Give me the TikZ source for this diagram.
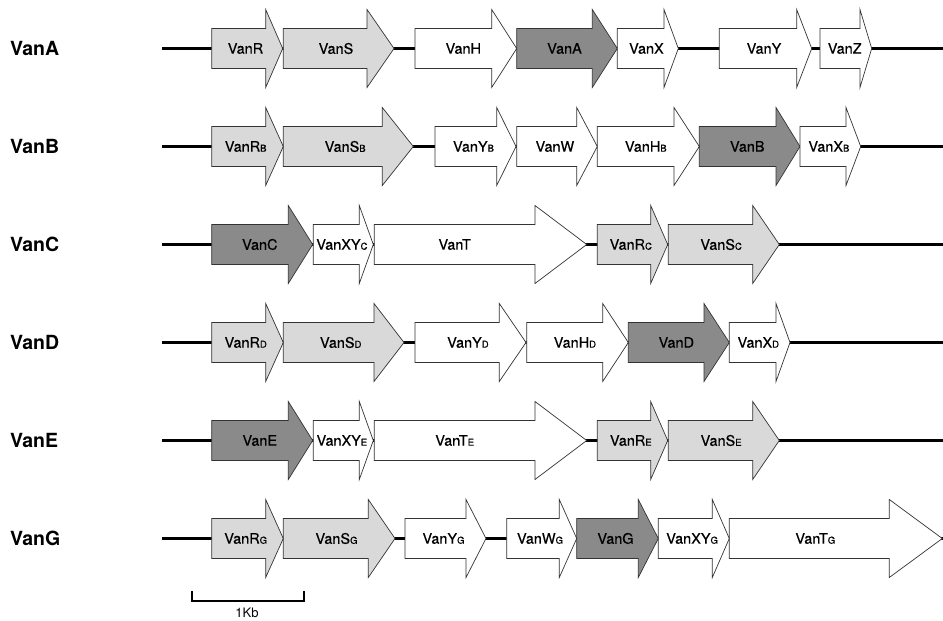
\documentclass[tikz,border=0pt]{standalone}
\usepackage{fontspec}
\setmainfont{TeX Gyre Heros}
\newfontfamily\genefont[FakeBold=0.5]{TeX Gyre Heros}
\definecolor{lightg}{HTML}{D9D9D9}
\definecolor{darkg}{HTML}{8A8A8A}
\definecolor{edge}{HTML}{333333}
\newcommand\sub[1]{{\fontsize{9.5}{9.5}\selectfont #1}}
% #1 name, #2 start, #3 head start, #4 tip, #5 y, #6 style, #7 label x, #8 text
\newcommand\gene[8]{%
  \draw[genebox,#6] (#2,#5-20) -- (#3,#5-20) -- (#3,#5-39) -- (#4,#5) -- (#3,#5+39) -- (#3,#5+20) -- (#2,#5+20) -- cycle;
  \node[genelabel] (#1) at (#7,#5) {#8};
}
\tikzset{
  genebox/.style={draw=edge, line width=0.7pt, line join=miter},
  light/.style={fill=lightg},
  dark/.style={fill=darkg},
  plain/.style={fill=white},
  genelabel/.style={inner sep=0pt, font=\genefont\fontsize{14.5}{14.5}\selectfont},
  rowlabel/.style={anchor=west, inner sep=0pt, font=\fontsize{19.5}{19.5}\selectfont\bfseries},
  backbone/.style={line width=3pt},
  scalebar/.style={line width=2pt},
}
\begin{document}
\begin{tikzpicture}[x=1pt,y=-1pt]
\useasboundingbox (0,0) rectangle (943,621);
% row labels
\node[rowlabel] (lA) at (10,48.5) {VanA};
\node[rowlabel] (lB) at (10,146.5) {VanB};
\node[rowlabel] (lC) at (10,244.5) {VanC};
\node[rowlabel] (lD) at (10,342.5) {VanD};
\node[rowlabel] (lE) at (10,440.5) {VanE};
\node[rowlabel] (lG) at (10,538.5) {VanG};
% backbones
\foreach \r/\y in {A/48.5,B/146.5,C/244.5,D/342.5,E/440.5,G/538.5}{
  \coordinate (s\r) at (162,\y);
  \coordinate (e\r) at (943,\y);
  \draw[backbone] (s\r) -- (e\r);
}
% Row A
\gene{aR}{211.7}{265.7}{282.7}{48.5}{light}{245.5}{VanR}
\gene{aS}{283.3}{367}{394}{48.5}{light}{336}{VanS}
\gene{aH}{415}{491.7}{516.7}{48.5}{plain}{463.3}{VanH}
\gene{aA}{516.7}{592.3}{617.3}{48.5}{dark}{564.5}{VanA}
\gene{aX}{617.3}{664}{678.3}{48.5}{plain}{646.4}{VanX}
\gene{aY}{719.3}{796.7}{811.7}{48.5}{plain}{764}{VanY}
\gene{aZ}{820}{860}{871.7}{48.5}{plain}{844.7}{VanZ}
% Row B
\gene{bR}{211.7}{265.7}{283.3}{146.5}{light}{245.7}{VanR\sub{B}}
\gene{bS}{283.3}{382.3}{413.3}{146.5}{light}{345.2}{VanS\sub{B}}
\gene{bY}{435}{496.7}{516}{146.5}{plain}{473.5}{VanY\sub{B}}
\gene{bW}{516.7}{576.7}{597.3}{146.5}{plain}{554.9}{VanW}
\gene{bH}{597.3}{674}{699.3}{146.5}{plain}{645.8}{VanH\sub{B}}
\gene{bB}{699.3}{776}{800}{146.5}{dark}{747.3}{VanB}
\gene{bX}{800}{846}{860.7}{146.5}{plain}{828.9}{VanX\sub{B}}
% Row C
\gene{cC}{211.7}{288.3}{312.7}{244.5}{dark}{259.8}{VanC}
\gene{cXY}{313.3}{359.3}{373.3}{244.5}{plain}{341.9}{VanXY\sub{C}}
\gene{cT}{374.3}{535}{586.7}{244.5}{plain}{454.7}{VanT}
\gene{cR}{597.3}{650.7}{667.7}{244.5}{light}{630.8}{VanR\sub{C}}
\gene{cS}{668.3}{752.7}{779.3}{244.5}{light}{721.1}{VanS\sub{C}}
% Row D
\gene{dR}{211.7}{265.7}{283.3}{342.5}{light}{245.7}{VanR\sub{D}}
\gene{dS}{283.3}{374}{404}{342.5}{light}{340.7}{VanS\sub{D}}
\gene{dY}{415}{499.3}{526}{342.5}{plain}{467.9}{VanY\sub{D}}
\gene{dH}{526.7}{602.7}{628.3}{342.5}{plain}{574.9}{VanH\sub{D}}
\gene{dD}{628.3}{704}{729.3}{342.5}{dark}{676.3}{VanD}
\gene{dX}{729.3}{776}{790}{342.5}{plain}{758.3}{VanX\sub{D}}
% Row E
\gene{eE}{211.7}{288.3}{312.7}{440.5}{dark}{259.8}{VanE}
\gene{eXY}{313.3}{359.3}{373.3}{440.5}{plain}{341.9}{VanXY\sub{E}}
\gene{eT}{374.3}{535}{586.7}{440.5}{plain}{454.7}{VanT\sub{E}}
\gene{eR}{597.3}{650.7}{667.7}{440.5}{light}{630.8}{VanR\sub{E}}
\gene{eS}{668.3}{752.7}{779.3}{440.5}{light}{721.1}{VanS\sub{E}}
% Row G
\gene{gR}{211.7}{265.7}{283.3}{538.5}{light}{245.7}{VanR\sub{G}}
\gene{gS}{283.3}{368.3}{395}{538.5}{light}{336.5}{VanS\sub{G}}
\gene{gY}{405}{466}{486}{538.5}{plain}{443.5}{VanY\sub{G}}
\gene{gW}{506.7}{559.3}{576.7}{538.5}{plain}{540}{VanW\sub{G}}
\gene{gG}{576.7}{638.3}{658.3}{538.5}{dark}{615.5}{VanG}
\gene{gXY}{658.3}{712.3}{729.3}{538.5}{plain}{692.1}{VanXY\sub{G}}
\gene{gT}{729.3}{889.3}{942.3}{538.5}{plain}{815.3}{VanT\sub{G}}
% scale bar
\coordinate (sb1) at (191.7,591);
\coordinate (sb2) at (191.7,601);
\coordinate (sb3) at (304.3,601);
\coordinate (sb4) at (304.3,591);
\draw[scalebar] (sb1) -- (sb2) -- (sb3) -- (sb4);
\node[genelabel, font=\fontsize{13}{13}\selectfont] (kb) at (247,613) {1Kb};
\end{tikzpicture}
\end{document}
